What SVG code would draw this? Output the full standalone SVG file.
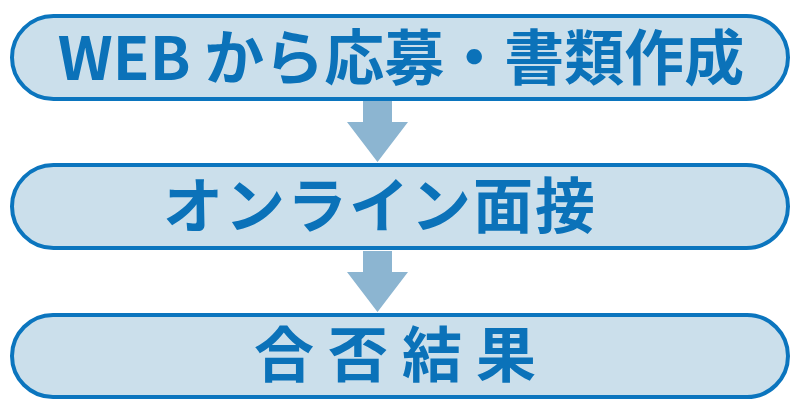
<svg xmlns="http://www.w3.org/2000/svg" width="800" height="411" viewBox="0 0 800 411">
<style>
.box{fill:#cbdfeb;stroke:#0b75be;stroke-width:4}
.lbl{fill:#0b72b9;font-family:"Noto Sans CJK JP","Noto Sans",sans-serif;font-weight:bold;font-size:60px}
.arr{fill:#8cb5d1}
</style>
<rect width="800" height="411" fill="#ffffff"/>
<g id="connectors">
<path class="arr" d="M363,101 H392 V122 H408 L377.5,162 L347,122 H363 Z"/>
<path class="arr" d="M363,251 H392 V272 H408 L377.5,312 L347,272 H363 Z"/>
</g>
<g id="node1">
<rect class="box" x="12" y="16" width="776" height="83" rx="41.5"/>
<text class="lbl" x="401" y="80" text-anchor="middle" font-size="61">WEB から応募・書類作成</text>
</g>
<g id="node2">
<rect class="box" x="12" y="165" width="776" height="83" rx="41.5"/>
<text class="lbl" x="380" y="228" text-anchor="middle" letter-spacing="2">オンライン面接</text>
</g>
<g id="node3">
<rect class="box" x="12" y="315" width="776" height="82" rx="41"/>
<text class="lbl" x="402" y="377" text-anchor="middle" letter-spacing="14">合否結果</text>
</g>
</svg>
